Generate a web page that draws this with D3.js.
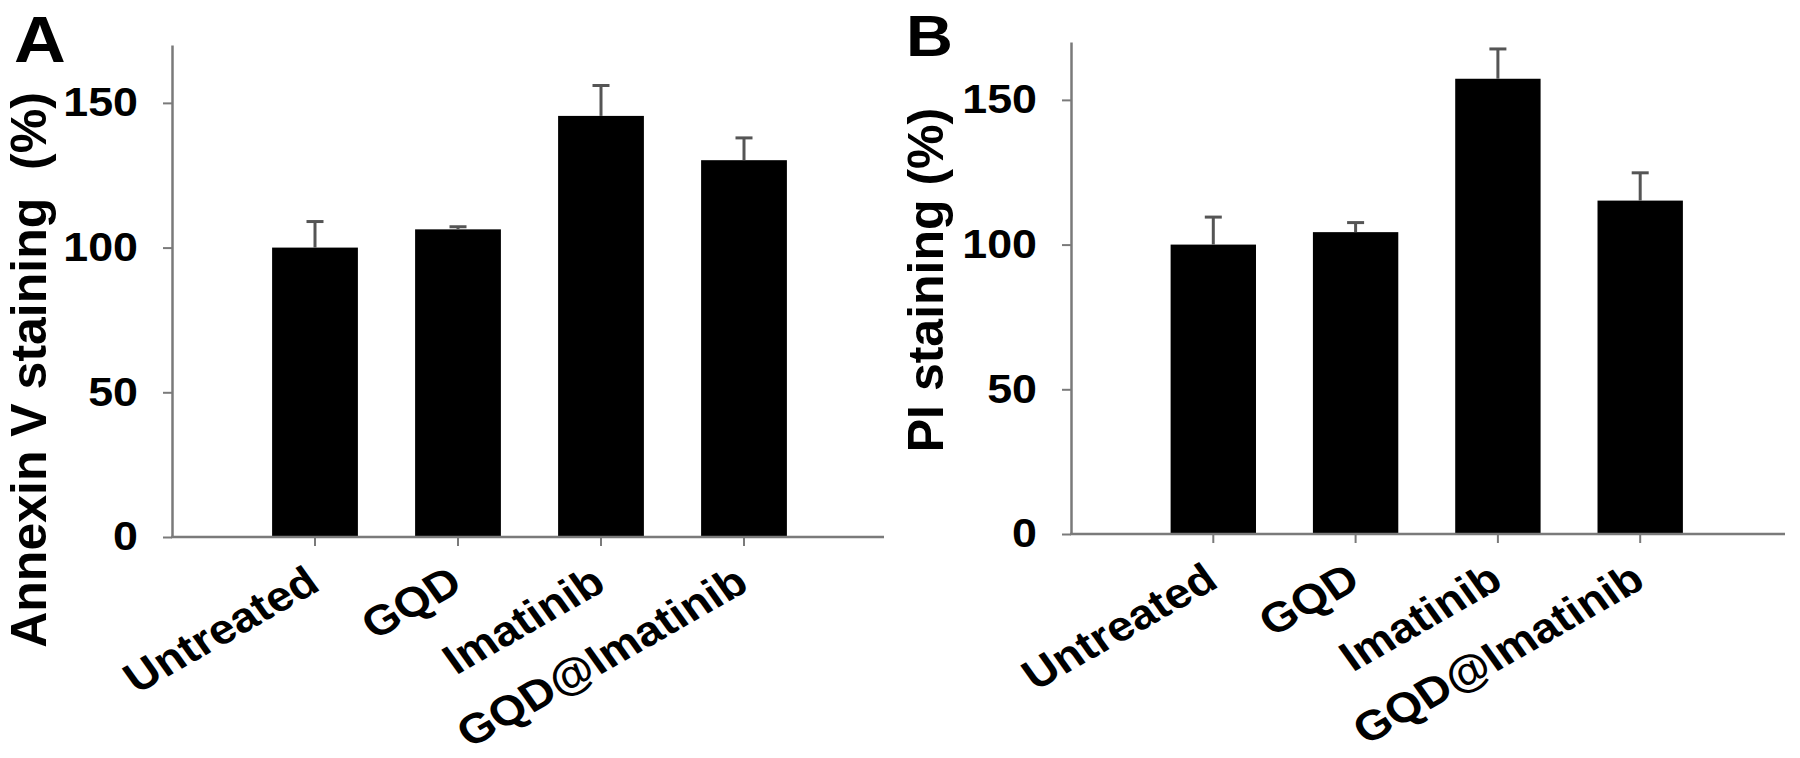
<!DOCTYPE html>
<html>
<head>
<meta charset="utf-8">
<script src="https://cdn.jsdelivr.net/npm/d3@7"></script>
<style>
  body { margin: 0; background: #fff; }
  svg { display: block; }
</style>
</head>
<body>
<div id="chart"></div>
<script>
// values
const categories = ["Untreated", "GQD", "Imatinib", "GQD@Imatinib"];
const annexinValues = [100, 106.3, 145.5, 130.2];
const annexinErrors = [9.0, 0.9, 10.5, 7.7];
const piValues = [100, 104.3, 157.3, 115.2];
const piErrors = [9.5, 3.3, 10.3, 9.6];
const yTicks = [0, 50, 100, 150];
const yMax = 170;

const W = 1800, H = 758;
const font = "'Liberation Sans', Arial, sans-serif";
const axisColor = "#7a7a7a";
const errColor = "#555";
// the original figure is slightly stretched horizontally, text looks wide
const sx = 1.12;

const svg = d3.select("#chart")
    .append("svg")
    .attr("width", W)
    .attr("height", H);

function drawPanel(p) {
    const g = svg.append("g");

    const y = d3.scaleLinear().domain([0, yMax]).range([p.y0, p.yTop]);
    const x = d3.scaleBand()
        .domain(categories)
        .range([p.x0 + p.step * 0.5, p.x0 + p.step * 4.5])
        .paddingInner(0.4)
        .paddingOuter(0.2);

    // bars
    g.selectAll(".bar")
        .data(p.values)
        .enter()
        .append("rect")
        .attr("class", "bar")
        .attr("x", (d, i) => x(categories[i]))
        .attr("width", x.bandwidth())
        .attr("y", d => y(d))
        .attr("height", d => y(0) - y(d))
        .attr("fill", "#000");

    // error bars (upper only)
    const err = g.selectAll(".err")
        .data(p.values.map((v, i) => ({ v: v, e: p.errors[i], c: categories[i] })))
        .enter()
        .append("g")
        .attr("class", "err")
        .attr("transform", d => `translate(${x(d.c) + x.bandwidth() / 2},0)`);
    err.append("line")
        .attr("x1", 0).attr("x2", 0)
        .attr("y1", d => y(d.v))
        .attr("y2", d => y(d.v + d.e))
        .attr("stroke", errColor)
        .attr("stroke-width", 3);
    err.append("line")
        .attr("x1", -8.5).attr("x2", 8.5)
        .attr("y1", d => y(d.v + d.e))
        .attr("y2", d => y(d.v + d.e))
        .attr("stroke", errColor)
        .attr("stroke-width", 3);

    // y axis
    const yAxis = g.append("g")
        .attr("transform", `translate(${p.x0},0)`)
        .call(d3.axisLeft(y).tickValues(yTicks).tickSize(9).tickSizeOuter(0));
    yAxis.select(".domain").attr("stroke", axisColor).attr("stroke-width", 2.5);
    yAxis.selectAll(".tick line").attr("stroke", axisColor).attr("stroke-width", 2);
    yAxis.selectAll(".tick text")
        .attr("x", -34 / sx)
        .attr("transform", `scale(${sx},1)`)
        .attr("fill", "#000")
        .style("font-family", font)
        .style("font-size", "40px")
        .style("font-weight", "bold");

    // x axis
    const xAxis = g.append("g")
        .attr("transform", `translate(0,${p.y0})`)
        .call(d3.axisBottom(x).tickSize(9).tickSizeOuter(0));
    xAxis.select(".domain").remove();
    xAxis.append("line")
        .attr("x1", p.x0 - 1).attr("x2", p.x1)
        .attr("y1", 0).attr("y2", 0)
        .attr("stroke", axisColor)
        .attr("stroke-width", 2.5);
    xAxis.selectAll(".tick line").attr("stroke", axisColor).attr("stroke-width", 2);
    xAxis.selectAll(".tick text")
        .attr("x", 0).attr("y", 0).attr("dy", null)
        .attr("text-anchor", "end")
        .attr("transform", `translate(7,52) scale(${sx},1) rotate(-32.5)`)
        .attr("fill", "#000")
        .style("font-family", font)
        .style("font-size", "42px")
        .style("font-weight", "bold");

    // axis title
    g.append("text")
        .text(p.title)
        .attr("transform", `translate(${p.titleX},${p.titleY}) rotate(-90)`)
        .attr("text-anchor", "middle")
        .style("white-space", "pre")
        .style("font-family", font)
        .style("font-size", "50px")
        .style("font-weight", "bold");

    // panel letter
    g.append("text")
        .text(p.letter)
        .attr("transform", `translate(${p.letterX},${p.letterY}) scale(${sx},1)`)
        .style("font-family", font)
        .style("font-size", p.letterSize + "px")
        .style("font-weight", "bold");
}

drawPanel({
    letter: "A", letterX: 14, letterY: 62, letterSize: 64,
    title: "Annexin V staining  (%)", titleX: 46, titleY: 370,
    values: annexinValues, errors: annexinErrors,
    x0: 172, x1: 884, step: 143, y0: 537, yTop: 45
});

drawPanel({
    letter: "B", letterX: 906, letterY: 56, letterSize: 58,
    title: "PI staining (%)", titleX: 943, titleY: 280,
    values: piValues, errors: piErrors,
    x0: 1071, x1: 1785, step: 142.3, y0: 534, yTop: 42
});
</script>
</body>
</html>
